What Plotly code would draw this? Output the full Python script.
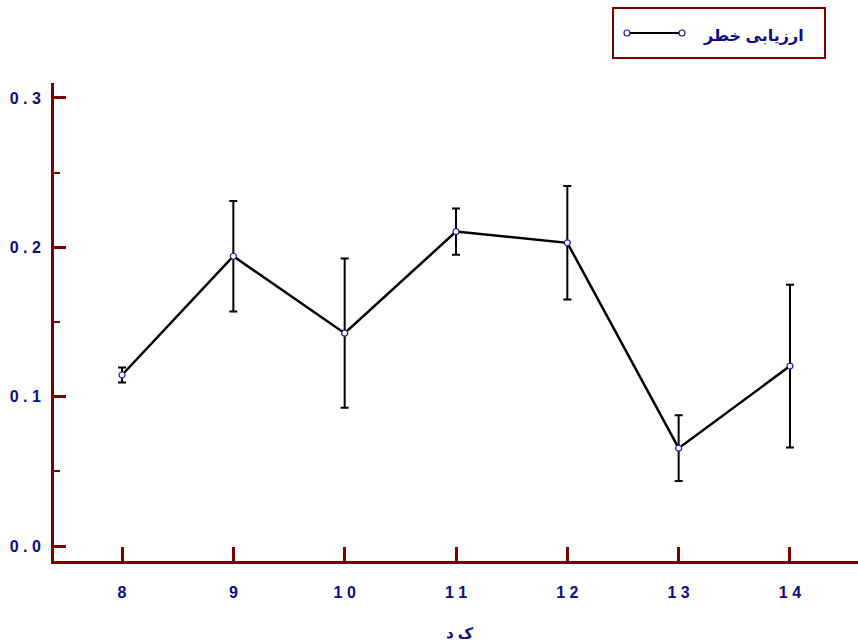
import plotly.graph_objects as go

# Risk assessment mean by code, with error bars
codes = [8, 9, 10, 11, 12, 13, 14]
risk_mean = [0.1145, 0.194, 0.1425, 0.2105, 0.203, 0.0655, 0.1205]
risk_err = [0.005, 0.037, 0.050, 0.0155, 0.038, 0.022, 0.0545]

x_tick_text = ["8", "9", "1 0", "1 1", "1 2", "1 3", "1 4"]
y_tick_vals = [0.0, 0.1, 0.2, 0.3]
y_tick_text = ["0 . 0", "0 . 1", "0 . 2", "0 . 3"]

series_name = "ارزیابی خطر"
x_title = "ک د"

AXIS_RED = "#7a0000"
NAVY = "#0c0c82"
FONT = "Liberation Sans, Arial, DejaVu Sans, sans-serif"

W, H = 858, 643
M_L, M_R, M_T, M_B = 54, 0, 83, 82

fig = go.Figure()
fig.add_trace(go.Scatter(
    x=codes, y=risk_mean,
    mode="lines+markers",
    name=series_name,
    line=dict(color="black", width=2.5),
    marker=dict(symbol="circle", size=6, color="white",
                line=dict(color="#1a1a9a", width=1.2)),
    error_y=dict(type="data", array=risk_err, visible=True,
                 color="black", thickness=2, width=4),
    showlegend=False,
))

# helpers: figure pixel -> paper (plot-area) coordinates
def px(x):
    return (x - M_L) / (W - M_L - M_R)

def py(y):
    return (H - M_B - y) / (H - M_T - M_B)

# Boxed legend with a marker at each end of the line sample
lx0, lx1, ly = 627, 682, 33
shapes = [
    dict(type="rect", xref="paper", yref="paper",
         x0=px(613), x1=px(825), y0=py(58), y1=py(8),
         line=dict(color=AXIS_RED, width=2), fillcolor="white"),
    dict(type="line", xref="paper", yref="paper",
         x0=px(lx0), x1=px(lx1), y0=py(ly), y1=py(ly),
         line=dict(color="black", width=2)),
]
for cx in (lx0, lx1):
    shapes.append(dict(type="circle", xref="paper", yref="paper",
                       x0=px(cx - 3), x1=px(cx + 3), y0=py(ly + 3), y1=py(ly - 3),
                       line=dict(color="#1a1a9a", width=1.2), fillcolor="white"))

annotations = [
    dict(text=series_name, xref="paper", yref="paper", x=px(806), y=py(36),
         xanchor="right", yanchor="middle", showarrow=False,
         font=dict(family=FONT, size=16, color=NAVY, weight="bold")),
    dict(text=x_title, xref="paper", yref="paper", x=px(460), y=py(632),
         xanchor="center", yanchor="middle", showarrow=False,
         font=dict(family=FONT, size=15, color=NAVY, weight="bold")),
]

fig.update_layout(
    width=W, height=H,
    margin=dict(l=M_L, r=M_R, t=M_T, b=M_B),
    paper_bgcolor="white", plot_bgcolor="white",
    shapes=shapes, annotations=annotations,
    xaxis=dict(
        range=[7.389, 14.611],
        tickvals=codes, ticktext=x_tick_text,
        showgrid=False, zeroline=False,
        showline=True, linecolor=AXIS_RED, linewidth=3,
        ticks="inside", ticklen=14, tickwidth=3, tickcolor=AXIS_RED,
        ticklabelstandoff=15,
        tickfont=dict(family=FONT, size=16, color=NAVY, weight="bold"),
    ),
    yaxis=dict(
        range=[-0.01004, 0.31],
        tickvals=y_tick_vals, ticktext=y_tick_text,
        showgrid=False, zeroline=False,
        showline=True, linecolor=AXIS_RED, linewidth=3,
        ticks="inside", ticklen=12, tickwidth=3, tickcolor=AXIS_RED,
        ticklabelstandoff=7,
        tickfont=dict(family=FONT, size=16, color=NAVY, weight="bold"),
        minor=dict(tickvals=[0.05, 0.15, 0.25], ticks="inside", ticklen=6,
                   tickwidth=2, tickcolor=AXIS_RED, showgrid=False),
    ),
)

fig.write_html("out.html")
